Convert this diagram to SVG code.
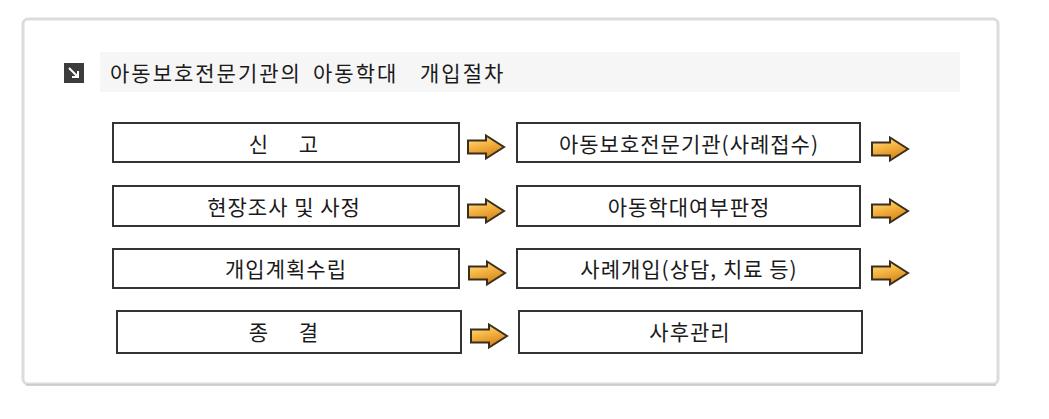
<svg xmlns="http://www.w3.org/2000/svg" width="1049" height="419" viewBox="0 0 1049 419">
  <style>
    .box { fill: #ffffff; stroke: #333333; stroke-width: 2; }
    .lbl { font-family: "Noto Sans CJK KR", "Noto Sans", sans-serif; font-size: 21px; letter-spacing: 1px; fill: #1a1a1a; text-anchor: middle; }
    .title { font-family: "Noto Sans CJK KR", "Noto Sans", sans-serif; font-size: 21px; letter-spacing: 2px; fill: #1a1a1a; }
    .arr { fill: url(#ag); stroke: #3a2e1c; stroke-width: 2; stroke-linejoin: miter; }
  </style>
  <defs>
    <linearGradient id="ag" x1="0" y1="0" x2="0.4" y2="1">
      <stop offset="0" stop-color="#fde8a6"/>
      <stop offset="0.45" stop-color="#f7b947"/>
      <stop offset="1" stop-color="#d6861a"/>
    </linearGradient>
    <path id="arrow" d="M0,-6.5 L18,-6.5 L18,-11.5 L36,0 L18,11.5 L18,6.5 L0,6.5 Z"/>
  </defs>
  <rect width="1049" height="419" fill="#ffffff"/>
  <g id="panel">
    <rect x="23" y="19" width="975" height="365" rx="5" fill="#ffffff" stroke="#dcdcdc" stroke-width="3"/>
    <line x1="26" y1="385" x2="996" y2="385" stroke="#c8c8c8" stroke-width="1.5"/>
  </g>
  <g id="title">
    <rect x="100" y="52" width="860" height="40" fill="#f6f6f6"/>
    <rect x="64" y="63" width="20" height="20" fill="#3c3c3c"/>
    <path d="M69,68 L78,77 M78,71 L78,77 L72,77" stroke="#ffffff" stroke-width="2" fill="none"/>
    <text class="title" y="81"><tspan x="110">아동보호전문기관의</tspan><tspan x="313">아동학대</tspan><tspan x="420">개입절차</tspan></text>
  </g>
  <g id="n1"><rect class="box" x="113" y="123" width="346" height="39"/><text class="lbl" y="152"><tspan x="259">신</tspan><tspan x="309">고</tspan></text></g>
  <g id="n2"><rect class="box" x="517" y="123" width="343" height="39"/><text class="lbl" x="689" y="152">아동보호전문기관(사례접수)</text></g>
  <g id="n3"><rect class="box" x="113" y="186" width="346" height="40"/><text class="lbl" x="284" y="215">현장조사 및 사정</text></g>
  <g id="n4"><rect class="box" x="517" y="186" width="343" height="40"/><text class="lbl" x="689" y="215">아동학대여부판정</text></g>
  <g id="n5"><rect class="box" x="113" y="249" width="346" height="39"/><text class="lbl" x="286" y="277">개입계획수립</text></g>
  <g id="n6"><rect class="box" x="517" y="249" width="343" height="39"/><text class="lbl" x="689" y="277">사례개입(상담, 치료 등)</text></g>
  <g id="n7"><rect class="box" x="117" y="311" width="344" height="42"/><text class="lbl" y="340"><tspan x="259">종</tspan><tspan x="309">결</tspan></text></g>
  <g id="n8"><rect class="box" x="519" y="311" width="343" height="42"/><text class="lbl" x="690" y="340">사후관리</text></g>
  <g id="connectors">
    <use href="#arrow" class="arr" transform="translate(468,147)"/>
    <use href="#arrow" class="arr" transform="translate(872,149)"/>
    <use href="#arrow" class="arr" transform="translate(468,211)"/>
    <use href="#arrow" class="arr" transform="translate(872,211)"/>
    <use href="#arrow" class="arr" transform="translate(469,273)"/>
    <use href="#arrow" class="arr" transform="translate(872,273)"/>
    <use href="#arrow" class="arr" transform="translate(471,336)"/>
  </g>
</svg>
